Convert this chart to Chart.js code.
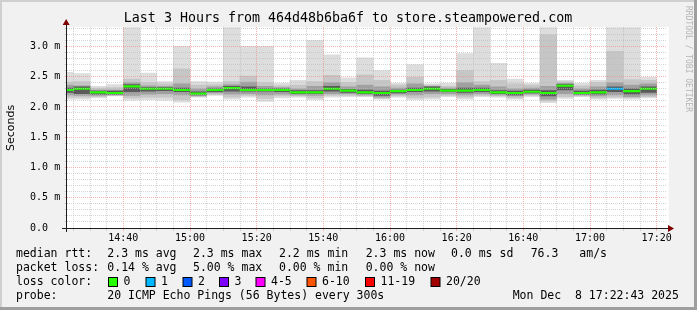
<!DOCTYPE html>
<html>
<head>
<meta charset="utf-8">
<script src="https://cdn.jsdelivr.net/npm/chart.js@4/dist/chart.umd.min.js"></script>
<style>
  html, body { margin: 0; padding: 0; background: #f1f1f1; }
  #wrap { width: 697px; height: 310px; }
</style>
</head>
<body>
<div id="wrap"><canvas id="smoke" width="697" height="310"></canvas></div>
<script>
// 5 minute slots, the first one starts at 14:20 and is cut off by the 14:23 left edge
const slotStart = 14 * 60 + 20;
const slotMinutes = 5;
const viewStart = 14 * 60 + 23;
const viewEnd = 17 * 60 + 23;

// smoke, outer to inner (ms)
const maxRtt = [2.57, 2.55, 2.34, 2.37, 3.31, 2.56, 2.42, 3.00, 2.42, 2.41, 3.31, 3.00, 3.00, 2.39, 2.44, 3.10, 2.86, 2.48,
                2.81, 2.60, 2.39, 2.70, 2.38, 2.39, 2.88, 3.31, 2.72, 2.46, 2.39, 3.31, 2.44, 2.39, 2.44, 3.31, 3.31, 2.49];
const hi2Rtt = [2.41, 2.42, 2.31, 2.32, 2.46, 2.40, 2.38, 2.63, 2.36, 2.37, 2.42, 2.51, 2.40, 2.35, 2.36, 2.42, 2.52, 2.40,
                2.53, 2.44, 2.36, 2.49, 2.36, 2.34, 2.60, 2.42, 2.44, 2.38, 2.36, 3.19, 2.42, 2.35, 2.40, 2.92, 2.45, 2.44];
const hi3Rtt = [2.36, 2.35, 2.28, 2.28, 2.40, 2.35, 2.34, 2.38, 2.30, 2.33, 2.37, 2.41, 2.34, 2.32, 2.30, 2.34, 2.40, 2.33,
                2.36, 2.33, 2.31, 2.38, 2.34, 2.31, 2.40, 2.36, 2.33, 2.30, 2.31, 2.34, 2.39, 2.30, 2.33, 2.40, 2.36, 2.38];
const hi4Rtt = [2.31, 2.33, 2.26, 2.26, 2.37, 2.32, 2.32, 2.31, 2.25, 2.30, 2.34, 2.33, 2.30, 2.30, 2.27, 2.27, 2.34, 2.29,
                2.28, 2.26, 2.28, 2.31, 2.33, 2.29, 2.31, 2.31, 2.27, 2.26, 2.28, 2.27, 2.37, 2.26, 2.28, 2.33, 2.30, 2.33];
const medianRtt = [2.28, 2.30, 2.24, 2.23, 2.34, 2.30, 2.30, 2.28, 2.22, 2.28, 2.31, 2.28, 2.28, 2.28, 2.24, 2.24, 2.30, 2.27,
                   2.24, 2.23, 2.26, 2.28, 2.30, 2.27, 2.27, 2.28, 2.24, 2.23, 2.25, 2.23, 2.35, 2.23, 2.24, 2.30, 2.26, 2.30];
const lo4Rtt = [2.24, 2.22, 2.21, 2.21, 2.25, 2.26, 2.27, 2.25, 2.20, 2.25, 2.26, 2.26, 2.26, 2.25, 2.22, 2.22, 2.26, 2.24,
                2.22, 2.19, 2.23, 2.25, 2.26, 2.25, 2.24, 2.25, 2.22, 2.20, 2.23, 2.18, 2.28, 2.21, 2.21, 2.25, 2.21, 2.24];
const lo3Rtt = [2.20, 2.19, 2.19, 2.20, 2.19, 2.21, 2.22, 2.20, 2.19, 2.23, 2.21, 2.22, 2.20, 2.21, 2.20, 2.19, 2.22, 2.22,
                2.20, 2.16, 2.21, 2.20, 2.22, 2.22, 2.20, 2.22, 2.20, 2.18, 2.21, 2.13, 2.22, 2.20, 2.18, 2.20, 2.17, 2.20];
const lo2Rtt = [2.16, 2.16, 2.17, 2.19, 2.15, 2.16, 2.16, 2.12, 2.17, 2.21, 2.16, 2.19, 2.14, 2.18, 2.18, 2.15, 2.19, 2.19,
                2.18, 2.14, 2.18, 2.15, 2.16, 2.19, 2.16, 2.19, 2.18, 2.15, 2.19, 2.10, 2.17, 2.18, 2.15, 2.16, 2.15, 2.17];
const minRtt = [2.13, 2.13, 2.15, 2.18, 2.11, 2.12, 2.11, 2.08, 2.16, 2.19, 2.13, 2.16, 2.09, 2.15, 2.16, 2.12, 2.16, 2.17,
                2.17, 2.13, 2.16, 2.12, 2.13, 2.17, 2.13, 2.17, 2.16, 2.13, 2.17, 2.07, 2.14, 2.17, 2.13, 2.14, 2.13, 2.15];
// lost pings out of 20 per slot
const lossCount = [0, 0, 0, 0, 0, 0, 0, 0, 0, 0, 0, 0, 0, 0, 0, 0, 0, 0,
                   0, 0, 0, 0, 0, 0, 0, 0, 0, 0, 0, 0, 0, 0, 0, 1, 0, 0];

const xTickLabels = ['14:40', '15:00', '15:20', '15:40', '16:00', '16:20', '16:40', '17:00', '17:20'];
const yTickLabels = ['0.0  ', '0.5 m', '1.0 m', '1.5 m', '2.0 m', '2.5 m', '3.0 m'];
const lossLabels = ['0', '1', '2', '3', '4-5', '6-10', '11-19', '20/20'];
const lossColors = ['#26ff00', '#00b8ff', '#0059ff', '#7e00ff', '#ff00ff', '#ff5500', '#ff0000', '#a10000'];

const xTickMinutes = xTickLabels.map(s => {
  const p = s.split(':');
  return parseInt(p[0]) * 60 + parseInt(p[1]);
});

const MEDIAN_HALF = 0.012; // half thickness of the median line in ms
const MONO = '"DejaVu Sans Mono", monospace';

function lossIndex(n) {
  if (n <= 3) return n;
  if (n <= 5) return 4;
  if (n <= 10) return 5;
  if (n <= 19) return 6;
  return 7;
}

function slotData(lo, hi) {
  return lo.map((v, i) => ({ x: slotStart + slotMinutes * i + slotMinutes / 2, y: [v, hi[i]] }));
}

function band(lo, hi, color, order) {
  return {
    data: slotData(lo, hi),
    backgroundColor: color,
    borderWidth: 0,
    order: order,
  };
}

const medianLo = medianRtt.map(m => m - MEDIAN_HALF);
const medianHi = medianRtt.map(m => m + MEDIAN_HALF);

const datasets = [
  {
    data: slotData(medianLo, medianHi),
    backgroundColor: (ctx) => lossColors[lossIndex(lossCount[ctx.dataIndex] || 0)],
    borderWidth: 0,
    order: 0,
  },
  band(lo4Rtt, hi4Rtt, '#5a5a5a', 1),
  band(lo3Rtt, hi3Rtt, '#a0a0a0', 2),
  band(lo2Rtt, hi2Rtt, '#c6c6c6', 3),
  band(minRtt, maxRtt, '#dddddd', 4),
];

const gridGrey = 'rgba(185,185,185,0.6)';
const gridRed = 'rgba(245,130,130,0.6)';

// text, frame, axes and arrows the way rrdtool draws them
const rrdFrame = {
  id: 'rrdFrame',
  beforeDraw(chart) {
    const ctx = chart.ctx;
    const a = chart.chartArea;
    ctx.save();
    ctx.fillStyle = '#f1f1f1';
    ctx.fillRect(0, 0, 697, 310);
    ctx.fillStyle = '#cfcfcf';
    ctx.fillRect(0, 0, 697, 2);
    ctx.fillRect(0, 0, 2, 310);
    ctx.fillStyle = '#9e9e9e';
    ctx.fillRect(694, 0, 3, 310);
    ctx.fillRect(0, 307, 697, 3);
    ctx.fillStyle = '#ffffff';
    ctx.fillRect(a.left, a.top, a.right - a.left + 2, a.bottom - a.top);
    ctx.restore();
  },
  afterDraw(chart) {
    const ctx = chart.ctx;
    const a = chart.chartArea;
    ctx.save();

    // axes
    ctx.strokeStyle = '#1e1e1e';
    ctx.lineWidth = 1;
    ctx.beginPath();
    ctx.moveTo(62, Math.round(a.bottom) + 0.5);
    ctx.lineTo(669, Math.round(a.bottom) + 0.5);
    ctx.moveTo(Math.round(a.left) - 0.5, a.bottom + 4);
    ctx.lineTo(Math.round(a.left) - 0.5, 24);
    ctx.stroke();
    ctx.fillStyle = '#7f0000';
    ctx.beginPath();
    ctx.moveTo(668, a.bottom - 3);
    ctx.lineTo(674, a.bottom + 0.5);
    ctx.lineTo(668, a.bottom + 4);
    ctx.fill();
    ctx.beginPath();
    ctx.moveTo(a.left - 4, 25);
    ctx.lineTo(a.left - 0.5, 19);
    ctx.lineTo(a.left + 3, 25);
    ctx.fill();

    // title
    ctx.fillStyle = '#000';
    ctx.textBaseline = 'middle';
    ctx.textAlign = 'center';
    ctx.font = '13.3px ' + MONO;
    ctx.fillText('Last 3 Hours from 464d48b6ba6f to store.steampowered.com', 348, 19);

    // y axis title
    ctx.save();
    ctx.translate(11, 128);
    ctx.rotate(-Math.PI / 2);
    ctx.font = '11px "DejaVu Sans", sans-serif';
    ctx.fillText('Seconds', 0, 0);
    ctx.restore();

    // watermark
    ctx.save();
    ctx.translate(688, 59);
    ctx.rotate(Math.PI / 2);
    ctx.fillStyle = '#b4b4b4';
    ctx.font = '8px ' + MONO;
    ctx.fillText('RRDTOOL / TOBI OETIKER', 0, 0);
    ctx.restore();

    // legend
    ctx.textAlign = 'left';
    ctx.font = '11.5px ' + MONO;
    const rows = [
      [254, [['median rtt:', 16], ['2.3 ms avg', 107.3], ['2.3 ms max', 193], ['2.2 ms min', 279],
             ['2.3 ms now', 365.7], ['0.0 ms sd', 451], ['76.3', 530.7], ['am/s', 579.3]]],
      [268, [['packet loss:', 16], ['0.14 % avg', 107.3], ['5.00 % max', 193], ['0.00 % min', 279],
             ['0.00 % now', 365.7]]],
      [282, [['loss color:', 16]]],
      [296, [['probe:', 16], ['20 ICMP Echo Pings (56 Bytes) every 300s', 107.3],
             ['Mon Dec  8 17:22:43 2025', 512.7]]],
    ];
    rows.forEach(([y, parts]) => parts.forEach(([t, x]) => ctx.fillText(t, x, y)));

    const boxX = [108, 145.5, 182.5, 219, 255.5, 306.5, 365, 430.5];
    lossLabels.forEach((lbl, i) => {
      ctx.fillStyle = lossColors[i];
      ctx.fillRect(boxX[i] + 0.5, 277.5, 9, 9);
      ctx.strokeStyle = '#000';
      ctx.strokeRect(boxX[i] + 0.5, 277.5, 9, 9);
      ctx.fillStyle = '#000';
      ctx.fillText(lbl, boxX[i] + 15.5, 282);
    });
    ctx.restore();
  }
};

new Chart(document.getElementById('smoke').getContext('2d'), {
  type: 'bar',
  data: { datasets: datasets },
  options: {
    responsive: false,
    animation: false,
    events: [],
    datasets: {
      bar: {
        grouped: false,
        barPercentage: 1,
        categoryPercentage: 1,
        clip: 0,
      }
    },
    layout: { padding: { left: 0, top: 27, right: 30.33, bottom: 0 } },
    plugins: {
      legend: { display: false },
      title: { display: false },
      tooltip: { enabled: false },
    },
    scales: {
      x: {
        type: 'linear',
        min: viewStart,
        max: viewEnd,
        offset: false,
        afterFit: (scale) => { scale.height = 82; },
        afterBuildTicks: (scale) => {
          const ticks = [];
          for (let t = viewStart + 2; t < viewEnd; t += slotMinutes) ticks.push({ value: t });
          scale.ticks = ticks;
        },
        grid: {
          z: 1,
          offset: false,
          tickLength: 3,
          color: (ctx) => (ctx.tick && xTickMinutes.includes(ctx.tick.value)) ? gridRed : gridGrey,
        },
        border: { display: false, dash: [1, 1] },
        ticks: {
          autoSkip: false,
          maxRotation: 0,
          padding: 1,
          color: '#000',
          font: { family: MONO, size: 10 },
          callback: (v) => {
            const i = xTickMinutes.indexOf(v);
            return i >= 0 ? xTickLabels[i] : '';
          }
        }
      },
      y: {
        type: 'linear',
        min: 0,
        max: 3.32,
        afterFit: (scale) => { scale.width = 66.67; },
        afterBuildTicks: (scale) => {
          const ticks = [];
          for (let i = 0; i <= 33; i++) ticks.push({ value: i / 10 });
          scale.ticks = ticks;
        },
        grid: {
          z: 1,
          tickLength: 2,
          color: (ctx) => (ctx.tick && Math.round(ctx.tick.value * 10) % 5 === 0) ? gridRed : gridGrey,
        },
        border: { display: false, dash: [1, 1] },
        ticks: {
          autoSkip: false,
          padding: 4.5,
          color: '#000',
          font: { family: MONO, size: 10 },
          callback: (v) => {
            const k = Math.round(v * 10);
            return k % 5 === 0 ? yTickLabels[k / 5] : '';
          }
        }
      }
    }
  },
  plugins: [rrdFrame]
});
</script>
</body>
</html>
